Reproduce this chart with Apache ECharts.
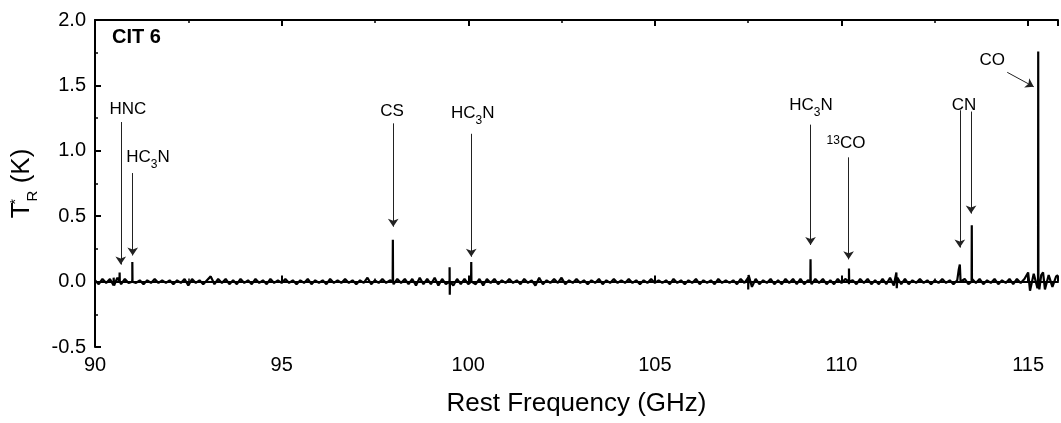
<!DOCTYPE html>
<html>
<head>
<meta charset="utf-8">
<script src="https://cdn.jsdelivr.net/npm/echarts@6/dist/echarts.min.js"></script>
<style>
html,body{margin:0;padding:0;background:#fff;}
#chart{width:1061px;height:423px;}
</style>
</head>
<body>
<div id="chart"></div>
<script>
// ---- data ----
var baselineStart = 90.0;   // GHz
var baselineStep = 0.1;     // GHz
var baselineValues = [
  0.01,-0.02,0.02,-0.01,0.02,-0.03,0.03,-0.02,0.02,-0.01,   // 90
  0.02,-0.01,0.01,-0.02,0.01,-0.01,0.02,-0.01,0.01,-0.01,   // 91
  0.01,-0.02,0.01,-0.01,0.02,-0.03,0.02,-0.01,0.01,-0.02,   // 92
  0.01,0.04,-0.02,0.02,-0.01,0.02,-0.02,0.01,-0.02,0.02,    // 93
  -0.01,0.01,-0.02,0.02,-0.01,0.01,-0.02,0.02,-0.01,0.01,   // 94
  -0.01,0.02,-0.01,0.01,-0.02,0.01,-0.01,0.02,-0.02,0.01,   // 95
  -0.01,0.01,-0.02,0.02,-0.01,0.01,-0.01,0.02,-0.01,0.01,   // 96
  -0.02,0.01,-0.01,0.03,-0.02,0.01,-0.01,0.02,-0.01,0.01,   // 97
  -0.02,0.02,-0.01,0.02,-0.02,0.02,-0.03,0.03,-0.02,0.02,   // 98
  -0.02,0.03,-0.03,0.02,-0.02,0.02,-0.03,0.02,-0.02,0.02,   // 99
  -0.02,0.01,-0.02,0.02,-0.03,0.02,-0.01,0.02,-0.02,0.01,   // 100
  -0.01,0.02,-0.01,0.01,-0.02,0.02,-0.01,0.01,-0.03,0.03,   // 101
  -0.02,0.01,-0.01,0.02,-0.01,0.03,-0.02,0.01,-0.01,0.02,   // 102
  -0.01,0.01,-0.02,0.01,-0.01,0.02,-0.02,0.01,-0.01,0.02,   // 103
  -0.01,0.01,-0.01,0.02,-0.01,0.01,-0.02,0.01,-0.01,0.02,   // 104
  -0.01,0.01,-0.01,0.01,-0.02,0.02,-0.01,0.01,-0.02,0.01,   // 105
  -0.01,0.02,-0.02,0.01,-0.01,0.01,-0.02,0.02,-0.01,0.01,   // 106
  -0.01,0.01,-0.02,0.02,-0.01,0.03,-0.04,0.02,-0.02,0.01,   // 107
  -0.01,0.02,-0.02,0.01,-0.02,0.02,-0.01,0.02,-0.02,0.02,   // 108
  -0.02,0.01,-0.02,0.02,-0.01,0.02,-0.02,0.01,-0.02,0.02,   // 109
  -0.01,0.02,-0.02,0.01,-0.02,0.02,-0.01,0.02,-0.02,0.01,   // 110
  -0.02,0.02,-0.02,0.03,-0.03,0.03,-0.02,0.02,-0.02,0.01,   // 111
  -0.01,0.02,-0.01,0.01,-0.02,0.01,-0.01,0.02,-0.01,0.01,   // 112
  -0.02,0.01,-0.01,0.02,-0.02,0.02,-0.01,0.02,-0.02,0.01,   // 113
  -0.01,0.02,-0.02,0.01,-0.01,0.02,-0.02,0.02,-0.01,0.02,   // 114
  0.07,-0.08,0.06,-0.06,0.07,-0.05,0.06,-0.05,0.05          // 115
];
// line peaks and extra features: [GHz, K]
var peakPoints = [
  [90.50,0.03],[90.51,-0.03],
  [90.655,0.0],[90.66,0.07],[90.665,0.0],
  [90.995,0.0],[91.0,0.15],[91.005,0.0],
  [97.975,0.0],[97.98,0.32],[97.985,0.0],
  [99.495,0.0],[99.50,0.11],[99.505,-0.10],[99.51,0.0],
  [100.075,0.0],[100.08,0.15],[100.085,0.0],
  [107.50,-0.06],[107.51,0.05],
  [109.165,0.0],[109.17,0.17],[109.175,0.0],
  [110.195,0.0],[110.20,0.10],[110.205,0.0],
  [111.47,0.07],[111.48,-0.05],
  [113.12,0.02],[113.14,0.09],[113.17,0.13],[113.19,0.0],
  [113.485,0.0],[113.49,0.43],[113.495,0.0],
  [115.05,-0.07],[115.15,0.06],[115.25,-0.05],
  [115.265,0.0],[115.27,1.76],[115.275,0.0],
  [115.35,0.05],[115.45,-0.06],[115.55,0.05],[115.65,-0.04],[115.75,0.04]
];
var xTicks = [90, 95, 100, 105, 110, 115];
var yTicks = [-0.5, 0.0, 0.5, 1.0, 1.5, 2.0];

var labelTexts = ['HNC', 'HC3N', 'CS', 'HC3N', 'HC3N', '13CO', 'CN', 'CO'];
var labelFreq  = [90.88, 91.42, 97.96, 100.12, 109.18, 110.12, 113.28, 114.04];
var labelT     = [1.30, 0.93, 1.28, 1.27, 1.33, 1.04, 1.33, 1.67];

var arrowStart = [[90.69,1.22],[91.01,0.83],[97.99,1.21],[100.08,1.13],[109.17,1.20],[110.19,0.95],[113.17,1.31],[113.47,1.30],[114.44,1.60]];
var arrowEnd   = [[90.69,0.13],[91.01,0.20],[97.99,0.42],[100.08,0.19],[109.17,0.28],[110.19,0.17],[113.17,0.26],[113.47,0.52],[115.15,1.49]];

// ---- build ----
var spectrum = [];
for (var i = 0; i < baselineValues.length; i++) {
  spectrum.push([+(baselineStart + i * baselineStep).toFixed(3), baselineValues[i]]);
}
spectrum = spectrum.concat(peakPoints);
spectrum.sort(function (a, b) { return a[0] - b[0]; });

var FONT = '"Liberation Sans", Arial, sans-serif';

function richLabel(t) {
  if (t === 'HC3N') return '{n|HC}{s|3}{n|N}';
  if (t === '13CO') return '{p|13}{n|CO}';
  return '{n|' + t + '}';
}

var labelData = labelTexts.map(function (t, i) { return { value: [labelFreq[i], labelT[i]], name: t }; });
var arrowData = arrowStart.map(function (s, i) { return [{ coord: s }, { coord: arrowEnd[i] }]; });

var chart = echarts.init(document.getElementById('chart'));
var axisCommon = {
  axisLine: { show: true, lineStyle: { color: '#000', width: 2 } },
  axisTick: { show: true, inside: true, length: 6, lineStyle: { color: '#000', width: 2 } },
  minorTick: { show: true, splitNumber: 2, length: 3, lineStyle: { color: '#000', width: 1.5 } },
  splitLine: { show: false },
  minorSplitLine: { show: false }
};

chart.setOption({
  animation: false,
  backgroundColor: '#fff',
  grid: { left: 95, top: 20, right: 0, bottom: 76, containLabel: false },
  xAxis: [
    Object.assign({
      type: 'value', min: 90, max: 115.8, interval: 5, position: 'bottom',
      name: 'Rest Frequency (GHz)', nameLocation: 'middle', nameGap: 44,
      nameTextStyle: { fontFamily: FONT, fontSize: 26, color: '#000' },
      axisLabel: { fontFamily: FONT, fontSize: 20, color: '#000', margin: 8,
        formatter: function (v) { return xTicks.indexOf(v) >= 0 ? String(v) : ''; } }
    }, axisCommon),
    Object.assign({
      type: 'value', min: 90, max: 115.8, interval: 5, position: 'top',
      axisLabel: { show: false }
    }, axisCommon)
  ],
  yAxis: [
    Object.assign({
      type: 'value', min: -0.5, max: 2.0, interval: 0.5,
      name: '{t|T}{st|*}{r|R}{k| (K)}', nameLocation: 'middle', nameGap: 47, nameRotate: 90,
      nameTextStyle: {
        fontFamily: FONT, color: '#000',
        rich: {
          t: { fontFamily: FONT, fontSize: 26, color: '#000', verticalAlign: 'bottom', padding: [0, 0, 6, 0] },
          k: { fontFamily: FONT, fontSize: 26, color: '#000', verticalAlign: 'bottom', padding: [0, 0, 6, 0] },
          st: { fontFamily: FONT, fontSize: 15, color: '#000', verticalAlign: 'top', width: 1 },
          r: { fontFamily: FONT, fontSize: 15, color: '#000', verticalAlign: 'bottom' }
        }
      },
      axisLabel: { fontFamily: FONT, fontSize: 20, color: '#000', margin: 9,
        formatter: function (v) { return yTicks.indexOf(v) >= 0 ? v.toFixed(1) : ''; } }
    }, axisCommon)
  ],
  graphic: [{
    type: 'text', left: 112, top: 27,
    style: { text: 'CIT 6', font: 'bold 20px ' + FONT, fill: '#000' }
  }],
  series: [
    {
      type: 'line', data: spectrum, showSymbol: false, sampling: 'none',
      lineStyle: { color: '#000', width: 2.2 }, z: 2,
      markLine: {
        silent: true, symbol: ['none', 'arrow'], symbolSize: 8,
        lineStyle: { color: '#222', width: 1, type: 'solid' },
        label: { show: false },
        data: arrowData
      }
    },
    {
      type: 'scatter', data: labelData, symbolSize: 0, z: 5, silent: true,
      itemStyle: { color: '#000', opacity: 1 },
      label: {
        show: true, position: 'inside', color: '#000', textBorderWidth: 0, opacity: 1,
        formatter: function (p) { return richLabel(p.name); },
        rich: {
          n: { fontFamily: FONT, fontSize: 17, color: '#000', verticalAlign: 'bottom', padding: [0, 0, 5, 0] },
          s: { fontFamily: FONT, fontSize: 12, color: '#000', verticalAlign: 'bottom' },
          p: { fontFamily: FONT, fontSize: 12, color: '#000', verticalAlign: 'top' }
        }
      }
    }
  ]
});
</script>
</body>
</html>
